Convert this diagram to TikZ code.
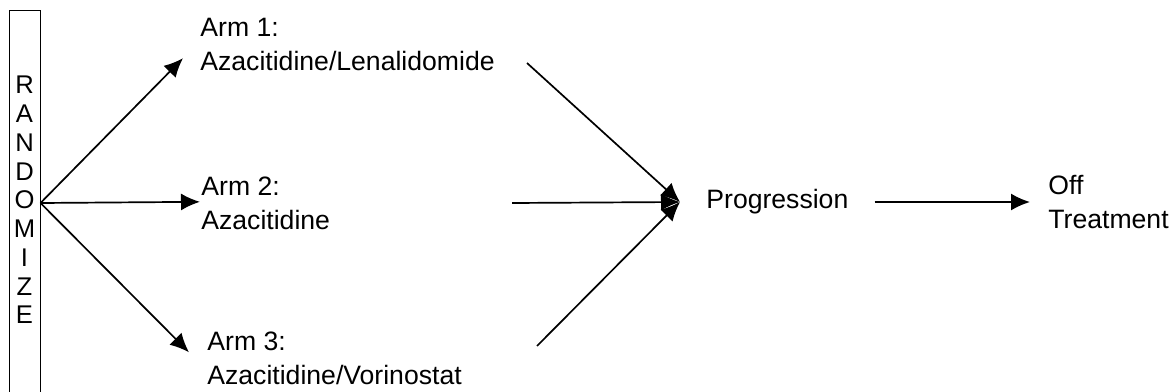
\documentclass[tikz,border=0pt]{standalone}
\usepackage{fontspec}
\setmainfont{Liberation Sans}
\usepackage{tikz}
\usetikzlibrary{calc}
\usetikzlibrary{arrows.meta}

\begin{document}
\begin{tikzpicture}[x=0.5pt,y=-0.5pt,
  armnode/.style={inner sep=0pt,anchor=north west,align=left,font=\fontsize{13.3}{17}\selectfont},
  flownode/.style={inner ysep=0pt,anchor=west,align=left,font=\fontsize{13.3}{17}\selectfont},
  randbox/.style={draw,line width=0.5pt,minimum width=15.5pt,minimum height=193pt,inner sep=0pt},
  arrowline/.style={-{Latex[length=9.5pt,width=8.5pt]},line width=0.85pt}]
  %\draw[help lines] (0,0) grid (1172,391);
  \useasboundingbox (0,0) rectangle (1172,391);
  \clip (0,0) rectangle (1172,391);

  \draw (24.5,203) node[randbox](rand) {};
  \draw (24.5,200) node[align=center,inner sep=0pt,font=\fontsize{12.8}{14.375}\selectfont](randtext) {R\\A\\N\\D\\O\\M\\I\\Z\\E};

  \draw (200,18)  node[armnode](arm1) {Arm 1:\\Azacitidine/Lenalidomide};
  \draw (201,177) node[armnode](arm2) {Arm 2:\\Azacitidine};
  \draw (207,332) node[armnode](arm3) {Arm 3:\\Azacitidine/Vorinostat};

  \draw (680,202)  node[flownode,inner xsep=13pt](prog) {Progression};
  \draw (1030,202) node[flownode,inner xsep=9pt](off)   {Off\\Treatment};

  \draw[arrowline] (rand.east) -- ($(arm1.west)+(-17,13.5)$);
  \draw[arrowline] (rand.east) -- ($(arm2.west)+(-1,-2)$);
  \draw[arrowline] (rand.east) -- ($(arm3.west)+(-18,-6.5)$);

  \coordinate (t1) at (527,63);
  \coordinate (t2) at (512,203);
  \coordinate (t3) at (537,346);

  \draw[arrowline] (t1) -- (prog.west);
  \draw[arrowline] (t2) -- (prog.west);
  \draw[arrowline] (t3) -- (prog.west);

  \draw[arrowline] (prog.east) -- (off.west);

\end{tikzpicture}
\end{document}
